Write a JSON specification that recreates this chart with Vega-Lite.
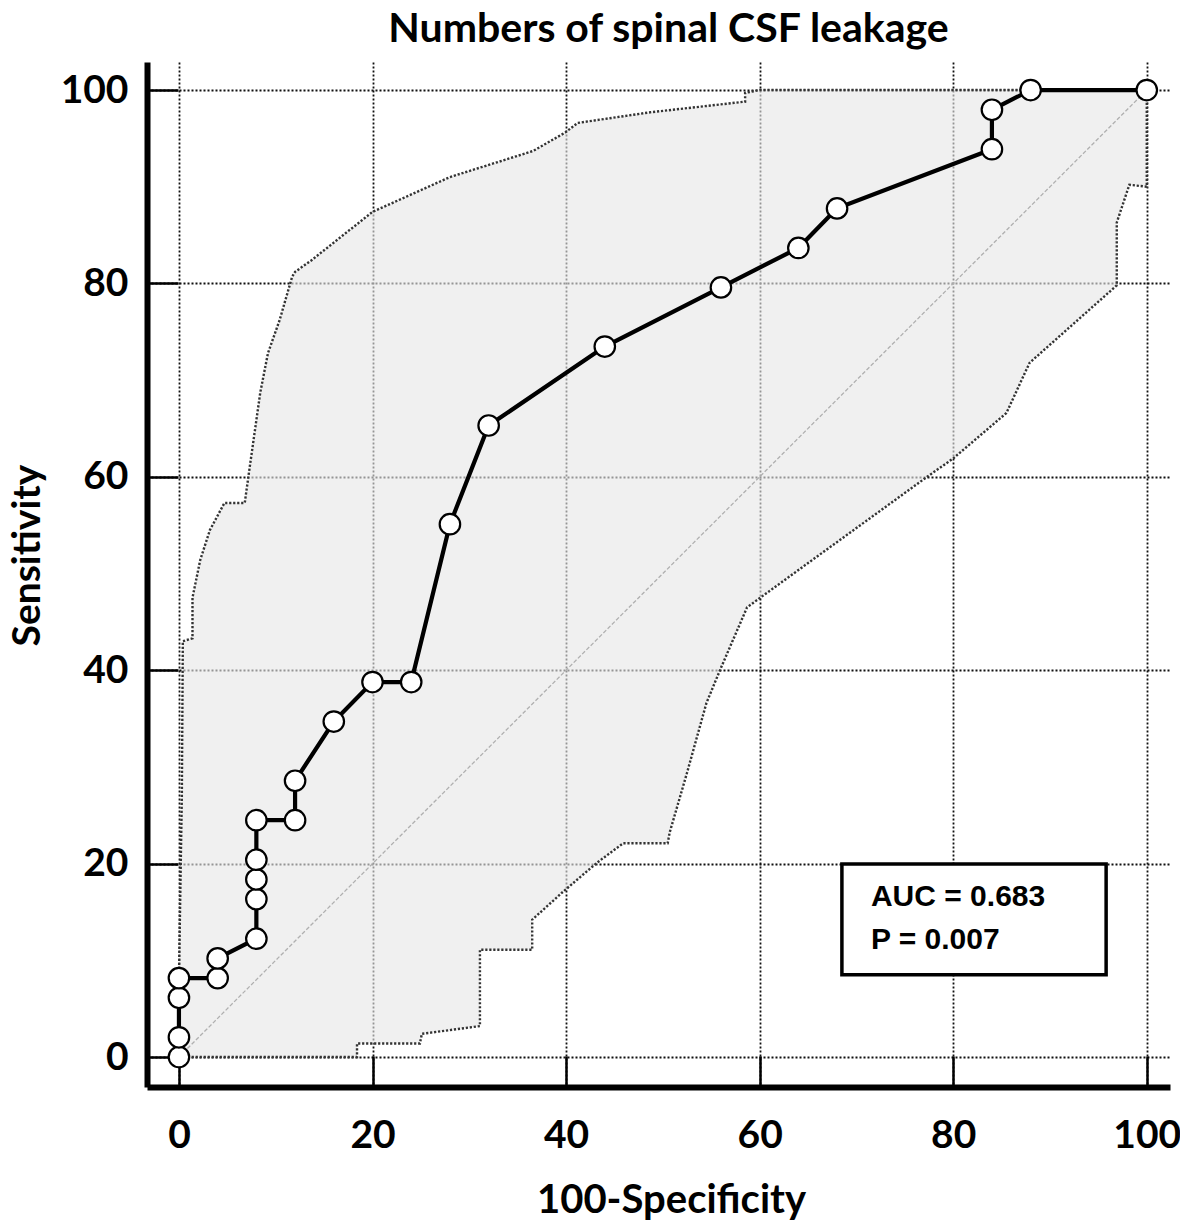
{
  "$schema": "https://vega.github.io/schema/vega-lite/v6.json",
  "autosize": {"type": "none"},
  "padding": {"left": 147, "top": 62, "right": 10, "bottom": 137},
  "width": 1023,
  "height": 1025,
  "background": "white",
  "title": {
    "text": "Numbers of spinal CSF leakage",
    "font": "Lato",
    "fontSize": 41,
    "fontWeight": "bold",
    "color": "black",
    "anchor": "middle",
    "dx": 10,
    "offset": 11
  },
  "config": {
    "view": {"stroke": null},
    "axis": {
      "grid": true,
      "gridColor": "#111",
      "gridDash": [2, 2],
      "gridWidth": 1.8,
      "domainColor": "black",
      "domainWidth": 6,
      "tickColor": "black",
      "tickWidth": 2.5,
      "tickSize": -31,
      "labelFont": "Lato",
      "labelFontSize": 39,
      "labelFontWeight": "bold",
      "labelColor": "black",
      "labelFlush": false,
      "labelOverlap": false,
      "labelBound": false,
      "titleFont": "Lato",
      "titleFontWeight": "bold",
      "titleColor": "black"
    }
  },
  "datasets": {
    "band": [
      {"i": 0, "x": 0, "y": 0},
      {"i": 1, "x": 0, "y": 8},
      {"i": 2, "x": 0.3, "y": 27},
      {"i": 3, "x": 0.4, "y": 43},
      {"i": 4, "x": 1.4, "y": 43.3},
      {"i": 5, "x": 1.4, "y": 47.5},
      {"i": 6, "x": 2.2, "y": 51.4},
      {"i": 7, "x": 3.2, "y": 54.5},
      {"i": 8, "x": 4.7, "y": 57.3},
      {"i": 9, "x": 6.8, "y": 57.3},
      {"i": 10, "x": 7.2, "y": 60.2},
      {"i": 11, "x": 8.4, "y": 68.7},
      {"i": 12, "x": 9.2, "y": 72.8},
      {"i": 13, "x": 10.4, "y": 76.2},
      {"i": 14, "x": 11.7, "y": 80.7},
      {"i": 15, "x": 12, "y": 81.2},
      {"i": 16, "x": 13.7, "y": 82.4},
      {"i": 17, "x": 20, "y": 87.4},
      {"i": 18, "x": 28, "y": 91.0},
      {"i": 19, "x": 36.6, "y": 93.7},
      {"i": 20, "x": 39.9, "y": 95.6},
      {"i": 21, "x": 41.2, "y": 96.6},
      {"i": 22, "x": 48.7, "y": 97.7},
      {"i": 23, "x": 58.5, "y": 98.8},
      {"i": 24, "x": 58.5, "y": 99.7},
      {"i": 25, "x": 60, "y": 100},
      {"i": 26, "x": 100, "y": 100},
      {"i": 27, "x": 100, "y": 90.0},
      {"i": 28, "x": 98.2, "y": 90.2},
      {"i": 29, "x": 96.9, "y": 86.3},
      {"i": 30, "x": 96.9, "y": 79.8},
      {"i": 31, "x": 87.9, "y": 71.8},
      {"i": 32, "x": 87.2, "y": 70.3},
      {"i": 33, "x": 85.5, "y": 66.6},
      {"i": 34, "x": 80, "y": 61.9},
      {"i": 35, "x": 77.3, "y": 60.0},
      {"i": 36, "x": 60.2, "y": 47.6},
      {"i": 37, "x": 58.7, "y": 46.5},
      {"i": 38, "x": 55.9, "y": 40.0},
      {"i": 39, "x": 54.5, "y": 36.6},
      {"i": 40, "x": 52.5, "y": 29.4},
      {"i": 41, "x": 50.7, "y": 23.2},
      {"i": 42, "x": 50.5, "y": 22.1},
      {"i": 43, "x": 45.9, "y": 22.1},
      {"i": 44, "x": 43.2, "y": 20.1},
      {"i": 45, "x": 39.7, "y": 17.1},
      {"i": 46, "x": 36.5, "y": 14.2},
      {"i": 47, "x": 36.5, "y": 11.1},
      {"i": 48, "x": 31.1, "y": 11.1},
      {"i": 49, "x": 31.1, "y": 3.2},
      {"i": 50, "x": 25.1, "y": 2.4},
      {"i": 51, "x": 24.9, "y": 1.4},
      {"i": 52, "x": 18.4, "y": 1.4},
      {"i": 53, "x": 18.4, "y": 0},
      {"i": 54, "x": 0, "y": 0}
    ],
    "diag": [
      {"x": 0, "y": 0},
      {"x": 100, "y": 100}
    ],
    "roc": [
      {"i": 0, "x": 0, "y": 0},
      {"i": 1, "x": 0, "y": 2.04},
      {"i": 2, "x": 0, "y": 6.12},
      {"i": 3, "x": 0, "y": 8.16},
      {"i": 4, "x": 4, "y": 8.16},
      {"i": 5, "x": 4, "y": 10.2},
      {"i": 6, "x": 8, "y": 12.24},
      {"i": 7, "x": 8, "y": 16.33},
      {"i": 8, "x": 8, "y": 18.37},
      {"i": 9, "x": 8, "y": 20.41},
      {"i": 10, "x": 8, "y": 24.49},
      {"i": 11, "x": 12, "y": 24.49},
      {"i": 12, "x": 12, "y": 28.57},
      {"i": 13, "x": 16, "y": 34.69},
      {"i": 14, "x": 20, "y": 38.78},
      {"i": 15, "x": 24, "y": 38.78},
      {"i": 16, "x": 28, "y": 55.1},
      {"i": 17, "x": 32, "y": 65.31},
      {"i": 18, "x": 44, "y": 73.47},
      {"i": 19, "x": 56, "y": 79.59},
      {"i": 20, "x": 64, "y": 83.67},
      {"i": 21, "x": 68, "y": 87.76},
      {"i": 22, "x": 84, "y": 93.88},
      {"i": 23, "x": 84, "y": 97.96},
      {"i": 24, "x": 88, "y": 100},
      {"i": 25, "x": 100, "y": 100}
    ],
    "box": [
      {"x": 68.5, "x2": 95.8, "y": 19.96, "y2": 8.5}
    ],
    "stats": [
      {"x": 71.5, "y": 16.5, "label": "AUC = 0.683"},
      {"x": 71.5, "y": 12.1, "label": "P = 0.007"}
    ]
  },
  "layer": [
    {
      "data": {"name": "band"},
      "mark": {
        "type": "line",
        "fill": "#e6e6e6",
        "fillOpacity": 0.62,
        "stroke": "#333",
        "strokeWidth": 2.4,
        "strokeDash": [2.2, 1.8],
        "clip": false
      },
      "encoding": {
        "x": {
          "field": "x",
          "type": "quantitative",
          "scale": {"domain": [-3.3, 102.4], "nice": false, "zero": false},
          "axis": {
            "values": [0, 20, 40, 60, 80, 100],
            "title": "100-Specificity",
            "titleFontSize": 40,
            "labelPadding": 60,
            "titleX": 524,
            "titleY": 125,
            "titleBaseline": "alphabetic",
            "titleAlign": "center"
          }
        },
        "y": {
          "field": "y",
          "type": "quantitative",
          "scale": {"domain": [-3.1, 102.9], "nice": false, "zero": false},
          "axis": {
            "values": [0, 20, 40, 60, 80, 100],
            "title": "Sensitivity",
            "titleFontSize": 39,
            "labelPadding": 50,
            "titleX": -108,
            "titleY": 493,
            "titleAngle": -90,
            "titleBaseline": "alphabetic",
            "titleAlign": "center"
          }
        },
        "order": {"field": "i", "type": "quantitative"}
      }
    },
    {
      "data": {"name": "diag"},
      "mark": {"type": "line", "stroke": "#b0b0b0", "strokeWidth": 1.3, "strokeDash": [4, 2]},
      "encoding": {
        "x": {"field": "x", "type": "quantitative"},
        "y": {"field": "y", "type": "quantitative"}
      }
    },
    {
      "data": {"name": "roc"},
      "mark": {"type": "line", "stroke": "black", "strokeWidth": 4.2},
      "encoding": {
        "x": {"field": "x", "type": "quantitative"},
        "y": {"field": "y", "type": "quantitative"},
        "order": {"field": "i", "type": "quantitative"}
      }
    },
    {
      "data": {"name": "roc"},
      "mark": {"type": "point", "shape": "circle", "filled": true, "fill": "white", "stroke": "black", "strokeWidth": 2.2, "size": 420, "opacity": 1},
      "encoding": {
        "x": {"field": "x", "type": "quantitative"},
        "y": {"field": "y", "type": "quantitative"}
      }
    },
    {
      "data": {"name": "box"},
      "mark": {"type": "rect", "fill": "white", "stroke": "black", "strokeWidth": 3.5},
      "encoding": {
        "x": {"field": "x", "type": "quantitative"},
        "x2": {"field": "x2"},
        "y": {"field": "y", "type": "quantitative"},
        "y2": {"field": "y2"}
      }
    },
    {
      "data": {"name": "stats"},
      "mark": {"type": "text", "align": "left", "baseline": "middle", "font": "Liberation Sans", "fontSize": 30, "fontWeight": "bold", "color": "black"},
      "encoding": {
        "x": {"field": "x", "type": "quantitative"},
        "y": {"field": "y", "type": "quantitative"},
        "text": {"field": "label"}
      }
    }
  ]
}
